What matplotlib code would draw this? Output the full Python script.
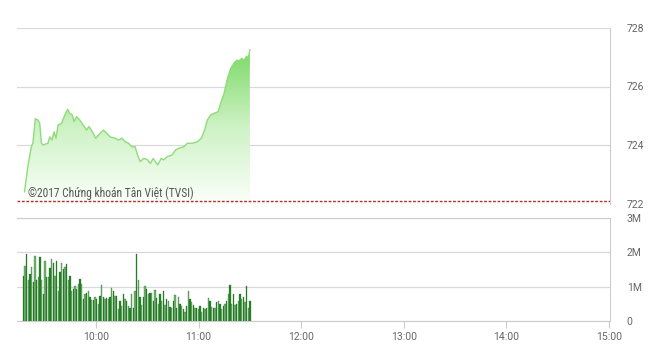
import numpy as np
import matplotlib
matplotlib.use('Agg')
import matplotlib.pyplot as plt
from matplotlib.colors import LinearSegmentedColormap
from matplotlib import font_manager

# ---------------- data ----------------
# price curve: minutes after 09:00 and index value
price_minutes = [18.2, 20.2, 22.2, 23.1, 24.5, 26.1, 27.1, 28.1, 29.0, 31.9, 32.9, 34.3,
                 35.5, 36.6, 37.8, 39.8, 41.8, 43.4, 44.7, 46.1, 47.2, 48.6, 50.6, 52.5,
                 54.5, 55.9, 58.4, 59.8, 62.4, 64.3, 66.3, 68.2, 71.2, 73.1, 75.1, 77.1,
                 79.0, 81.0, 82.9, 84.3, 85.9, 87.8, 89.8, 91.8, 93.4, 94.7, 96.1, 98.1,
                 99.6, 101.6, 104.5, 106.5, 108.4, 111.4, 113.4, 116.3, 119.2, 121.6, 123.5,
                 125.1, 127.1, 129.0, 131.4, 132.9, 134.9, 136.9, 138.8, 140.8, 142.4,
                 143.7, 145.3, 146.6, 148.1, 149.0, 150.0]
price_values = [722.4, 723.3, 723.94, 724.06, 724.9, 724.85, 724.74, 724.06, 724.0, 724.06,
                724.28, 724.17, 724.45, 724.23, 724.68, 724.74, 725.03, 725.22, 725.08,
                725.03, 724.8, 724.97, 724.85, 724.68, 724.51, 724.63, 724.4, 724.23, 724.4,
                724.51, 724.4, 724.28, 724.23, 724.17, 724.23, 724.11, 724.06, 723.94,
                723.94, 723.66, 723.43, 723.54, 723.51, 723.37, 723.54, 723.43, 723.32,
                723.54, 723.49, 723.6, 723.66, 723.83, 723.89, 723.94, 724.06, 724.06,
                724.11, 724.23, 724.51, 724.85, 725.03, 725.08, 725.14, 725.43, 725.77,
                726.28, 726.62, 726.81, 726.9, 726.88, 726.96, 726.9, 727.04, 726.96, 727.25]
reference_price = 722.08

# volume per minute (millions)
volume_m = [1.3, 1.6, 1.95, 1.2, 1.37, 1.57, 1.13, 1.9, 1.2, 1.27, 1.86, 1.2, 0.78, 1.76,
            1.27, 1.27, 1.55, 1.8, 1.7, 1.32, 1.76, 0.88, 1.42, 1.7, 1.52, 1.57, 1.67, 1.2,
            1.32, 0.88, 0.93, 1.03, 0.93, 1.08, 1.22, 1.08, 0.64, 0.78, 0.83, 0.88, 0.69,
            0.61, 0.61, 0.69, 0.64, 0.49, 0.74, 1.06, 0.69, 0.64, 0.67, 0.64, 0.69, 0.96,
            0.88, 0.74, 0.74, 0.34, 0.59, 0.44, 0.8, 0.64, 0.59, 0.44, 0.39, 0.78, 0.39,
            0.88, 1.96, 1.18, 0.69, 0.47, 0.69, 1.03, 0.93, 0.8, 0.83, 0.83, 0.59, 0.9,
            0.67, 0.49, 0.8, 0.59, 0.88, 0.47, 0.64, 0.57, 0.41, 0.39, 0.59, 0.76, 0.39,
            0.71, 0.49, 0.44, 0.34, 0.27, 0.44, 0.86, 0.64, 0.54, 0.47, 0.37, 0.39, 0.34,
            0.44, 0.27, 0.39, 0.34, 0.39, 0.67, 0.59, 0.41, 0.39, 0.37, 0.54, 0.57, 0.5,
            0.34, 0.44, 0.5, 0.59, 0.78, 1.06, 0.49, 0.8, 0.47, 0.49, 0.59, 0.8, 0.64,
            0.71, 0.54, 1.03, 0.39, 0.59]
volume_start_min = 17.5
volume_end_min = 150.0

x_tick_minutes = [60, 120, 180, 240, 300, 360]
x_tick_labels = ['10:00', '11:00', '12:00', '13:00', '14:00', '15:00']
price_ticks = [722, 724, 726, 728]
volume_ticks = [0, 1e6, 2e6, 3e6]
volume_tick_labels = ['0', '1M', '2M', '3M']
watermark = '©2017 Chứng khoán Tân Việt (TVSI)'

# ---------------- style ----------------
names = {f.name for f in font_manager.fontManager.ttflist}
fam = ['Liberation Sans Narrow'] if 'Liberation Sans Narrow' in names else ['Roboto']
plt.rcParams['font.family'] = fam + ['DejaVu Sans']
wm_fam = ['Roboto Condensed'] if 'Roboto Condensed' in names else fam
wm_size = 8.3 if 'Roboto Condensed' in names else 7.3

W, H = 660, 353
fig = plt.figure(figsize=(W / 100, H / 100), dpi=100)

def rect(l, t, r, b):
    return [l / W, 1 - b / H, (r - l) / W, (b - t) / H]

ax1 = fig.add_axes(rect(17, 28, 610, 203.5))
ax2 = fig.add_axes(rect(17, 218, 610, 321))
xlim = (13.8, 360.6)
grid_c = '#d9d9d9'
text_c = '#666666'

# ---- top price panel ----
t = np.array(price_minutes)
p = np.array(price_values)
ax1.set_xlim(*xlim)
ax1.set_ylim(722, 728)
poly = ax1.fill_between(t, p, 722, color='none', linewidth=0)
cmap = LinearSegmentedColormap.from_list('g', ['#fbfffa', '#cdf2c4', '#7cd966'])
grad = np.linspace(0, 1, 256).reshape(-1, 1)
im = ax1.imshow(grad, extent=[t[0], t[-1], 722, p.max()], aspect='auto',
                cmap=cmap, origin='lower', zorder=1)
im.set_clip_path(poly.get_paths()[0], transform=ax1.transData)
ax1.plot(t, p, color='#8edc7a', lw=1.0, zorder=2)
ax1.set_xlim(*xlim)
ax1.set_ylim(722, 728)
ax1.axhline(reference_price, color='#b03030', lw=1.0, ls=(0, (2, 1.2)), zorder=3)
ax1.set_yticks(price_ticks)
ax1.set_xticks([])
ax1.grid(axis='y', color=grid_c, lw=0.9)
ax1.set_axisbelow(True)
for s in ['left', 'top', 'bottom']:
    ax1.spines[s].set_visible(False)
ax1.spines['right'].set_color('#cccccc')
ax1.yaxis.tick_right()
ax1.tick_params(axis='y', length=0, pad=12, labelsize=7.5, labelcolor=text_c)
ax1.text(0.018, 0.035, watermark, transform=ax1.transAxes, fontsize=wm_size,
         family=wm_fam + ['DejaVu Sans'],
         color='#555555', va='baseline', ha='left', zorder=4)

# ---- bottom volume panel ----
bt = np.linspace(volume_start_min, volume_end_min, len(volume_m))
vol = np.array(volume_m) * 1e6
colors = ['#2a812a' if i % 2 == 0 else '#74b374' for i in range(len(vol))]
ax2.bar(bt, vol, width=0.8, color=colors, edgecolor='#1f6f1f', linewidth=0.2, zorder=2)
ax2.set_xlim(*xlim)
ax2.set_ylim(0, 3e6)
ax2.set_yticks(volume_ticks)
ax2.set_yticklabels(volume_tick_labels)
ax2.set_xticks(x_tick_minutes)
ax2.set_xticklabels(x_tick_labels)
ax2.grid(axis='y', color=grid_c, lw=0.9)
ax2.set_axisbelow(True)
ax2.spines['left'].set_visible(False)
for s in ['top', 'right', 'bottom']:
    ax2.spines[s].set_color('#cccccc')
ax2.yaxis.tick_right()
ax2.tick_params(axis='y', length=0, pad=12, labelsize=7.5, labelcolor=text_c)
ax2.tick_params(axis='x', length=5, color='#cccccc', pad=3, labelsize=7.5, labelcolor=text_c)

fig.savefig('out.png', dpi=100)
